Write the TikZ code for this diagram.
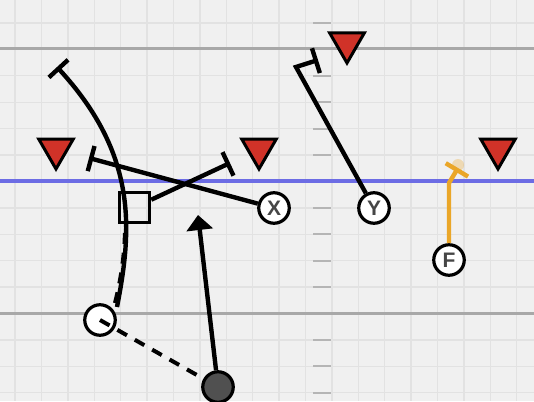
\documentclass[tikz,border=0pt]{standalone}
\usepackage{fontspec}
\setmainfont{Liberation Sans}
\usetikzlibrary{arrows.meta,shapes.geometric,calc}
\definecolor{bg}{RGB}{240,240,240}
\definecolor{gridc}{RGB}{226,226,226}
\definecolor{greyline}{RGB}{168,168,168}
\definecolor{blueline}{RGB}{108,108,228}
\definecolor{defred}{RGB}{208,50,40}
\definecolor{fcol}{RGB}{234,166,40}
\definecolor{txt}{RGB}{70,70,70}
\definecolor{qbfill}{RGB}{80,80,80}
\begin{document}
\begin{tikzpicture}[x=1pt,y=-1pt,
  gridline/.style={gridc,line width=1.4pt},
  hash/.style={greyline!85,line width=2pt},
  defender/.style={regular polygon,regular polygon sides=3,shape border rotate=180,
    draw=black,fill=defred,line width=3pt,minimum size=40pt,inner sep=0pt},
  player/.style={circle,draw=black,fill=white,line width=3.2pt,minimum size=30.5pt,inner sep=0pt,
    text=txt,font=\bfseries\fontsize{21}{21}\selectfont},
  qbnode/.style={circle,draw=black,fill=qbfill,line width=3.2pt,minimum size=30.5pt,inner sep=0pt},
  blocker/.style={rectangle,draw=black,line width=3pt,minimum size=30.5pt,inner sep=0pt},
  route/.style={black,line width=4.4pt},
  froute/.style={fcol,line width=4.4pt},
  tbar/.style={-{Bar[width=26pt]}},
  motion/.style={black,line width=4pt,dash pattern=on 11pt off 9pt}]
\useasboundingbox (0,0) rectangle (534,401);
\fill[bg] (0,0) rectangle (534,401);
% grid
\foreach \i in {0,...,19} \draw[gridline] ({15+26.4*\i},0) -- ({15+26.4*\i},401);
\foreach \j in {0,...,15} \draw[gridline] (0,{-3.4+26.4*\j}) -- (534,{-3.4+26.4*\j});
% hash marks
\foreach \j in {1,3,4,5,6,8,9,10,11,13,14,15} \draw[hash] (313,{-3.4+26.4*\j}) -- (331,{-3.4+26.4*\j});
% field lines
\draw[greyline,line width=3pt] (0,49) -- (534,49);
\draw[greyline,line width=3pt] (0,313) -- (534,313);
\draw[blueline,line width=3.5pt] (0,181) -- (534,181);
% defenders
\node[defender] (d1) at (56,149) {};
\node[defender] (d2) at (259,149) {};
\node[defender] (d3) at (347,43) {};
\node[defender] (d4) at (498,149) {};
% end coordinates
\coordinate (c0) at (117,307);
\coordinate (ce) at (57,67);
\coordinate (xe) at (89,158);
\coordinate (se) at (230,163);
\coordinate (yc) at (296,67);
\coordinate (ye) at (318,60);
\coordinate (fc) at (449,183);
\coordinate (fe) at (458,168);
\coordinate (fglow) at (458,165);
\coordinate (ae) at (198,215);
\coordinate (m0) at (115,303);
\coordinate (m1) at (125,226);
% players
\node[player] (X) at (274,208) {X};
\node[player] (Y) at (374,208) {Y};
\node[player] (F) at (449,260) {F};
\node[player] (O) at (100,320) {};
\node[qbnode] (QB) at (218,387) {};
\node[blocker] (S) at (134.5,207.5) {};
% routes
\draw[motion] (m0) .. controls (122,275) and (125,250) .. (m1);
\draw[route,tbar] (c0) .. controls (132,230) and (138,155) .. (ce);
\draw[route,tbar] (X) -- (xe);
\draw[route,tbar] (S) -- (se);
\draw[route,tbar,line join=miter] (Y) -- (yc) -- (ye);
\fill[fcol,opacity=0.3] (fglow) circle (6pt);
\draw[froute,tbar] (F) -- (fc) -- (fe);
\draw[route,-{Triangle[width=26pt,length=15pt]}] (QB) -- (ae);
\draw[motion] (O.center) -- (QB);
\end{tikzpicture}
\end{document}
